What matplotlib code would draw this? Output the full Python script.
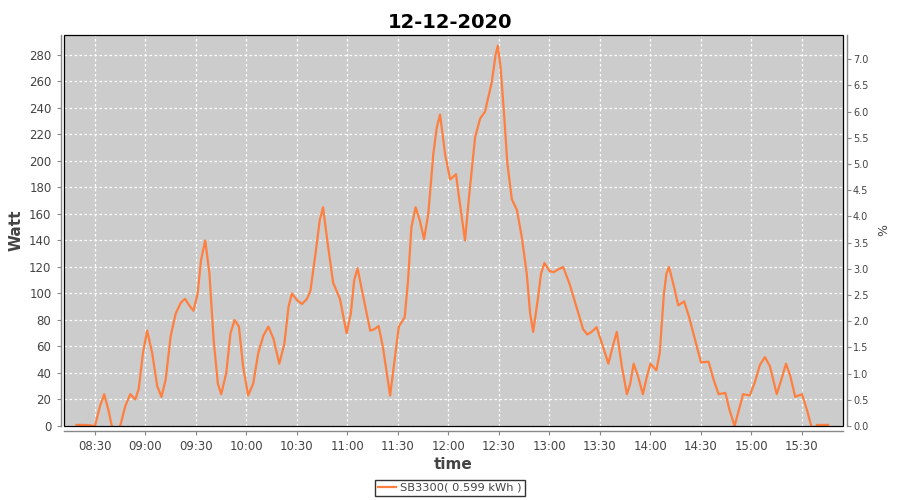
import matplotlib
matplotlib.use("Agg")
import matplotlib.pyplot as plt
import matplotlib.dates as mdates
import pandas as pd
from matplotlib.patches import Rectangle
from matplotlib.ticker import MultipleLocator, FormatStrFormatter

# power readings of SB3300 on 12-12-2020
times = [
    "08:19:00", "08:25:00", "08:30:00", "08:33:00", "08:35:30", "08:38:00", "08:40:00", "08:42:30",
    "08:45:00", "08:48:00", "08:51:00", "08:54:00", "08:56:00", "08:58:30", "09:01:00", "09:04:00",
    "09:07:00", "09:09:30", "09:12:00", "09:15:00", "09:18:00", "09:21:00", "09:23:30", "09:26:00",
    "09:28:30", "09:31:00", "09:33:00", "09:35:30", "09:38:00", "09:40:30", "09:43:00", "09:45:00",
    "09:48:00", "09:50:30", "09:53:00", "09:55:30", "09:58:00", "10:01:00", "10:04:00", "10:07:00",
    "10:10:00", "10:13:00", "10:16:00", "10:19:30", "10:22:30", "10:25:00", "10:27:00", "10:30:00",
    "10:33:00", "10:36:00", "10:38:00", "10:41:00", "10:43:30", "10:45:30", "10:48:00", "10:51:30",
    "10:55:30", "10:58:00", "10:59:30", "11:02:00", "11:04:00", "11:06:00", "11:09:00", "11:13:30",
    "11:16:00", "11:18:30", "11:21:00", "11:25:20", "11:28:00", "11:30:30", "11:34:00", "11:36:00",
    "11:38:00", "11:40:30", "11:43:00", "11:45:30", "11:48:00", "11:51:00", "11:53:00", "11:55:00",
    "11:58:00", "12:01:00", "12:04:30", "12:06:00", "12:09:50", "12:12:00", "12:15:50", "12:18:50",
    "12:21:40", "12:25:40", "12:28:00", "12:29:20", "12:31:00", "12:33:00", "12:35:00", "12:37:40",
    "12:40:40", "12:43:30", "12:46:30", "12:48:30", "12:50:20", "12:53:00", "12:55:00", "12:57:00",
    "13:00:00", "13:02:20", "13:05:00", "13:08:10", "13:12:00", "13:16:00", "13:20:00", "13:22:30",
    "13:25:00", "13:28:00", "13:31:00", "13:35:00", "13:38:00", "13:40:00", "13:43:00", "13:46:00",
    "13:48:00", "13:50:00", "13:52:30", "13:55:30", "13:58:00", "14:00:00", "14:03:30", "14:05:30",
    "14:08:00", "14:09:30", "14:11:00", "14:14:00", "14:16:30", "14:20:00", "14:23:00", "14:26:30",
    "14:30:00", "14:34:30", "14:37:30", "14:40:30", "14:44:30", "14:47:00", "14:50:00", "14:52:30",
    "14:55:00", "14:59:00", "15:02:00", "15:05:00", "15:08:00", "15:11:00", "15:15:00", "15:18:00",
    "15:20:30", "15:23:00", "15:26:00", "15:30:00", "15:33:00", "15:35:30", "15:37:30", "15:39:00",
    "15:45:30",
]
watts = [
    0.8, 0.8, 0, 15, 24, 12, 0, -3,
    0, 15, 24, 20, 28, 55, 72, 55,
    30, 22, 35, 68, 85, 93, 96, 91,
    87, 100, 125, 140, 115, 65, 32, 24,
    40, 70, 80, 75, 45, 23, 32, 55,
    68, 75, 66, 47, 62, 90, 100, 95,
    92, 96, 102, 130, 155, 165, 140, 108,
    96, 80, 70, 85, 110, 119, 100, 72,
    73, 75.5, 60, 23, 50, 75, 82, 110,
    150, 165, 155, 141, 160, 205, 225, 235,
    205, 186, 190, 175, 140, 170, 218, 232,
    237, 259, 280, 287, 270, 236, 198, 171,
    163, 143, 115, 85, 71, 95, 115, 123,
    117, 116, 118, 120, 107, 90, 73, 69,
    71, 74.5, 63, 47, 62, 71, 45, 24,
    32, 47, 38, 24, 38, 47, 42, 55,
    100, 115, 120, 105, 91, 94, 82, 65,
    48, 48.5, 35, 24, 25, 12, 0, 12,
    24, 23, 33, 46, 52, 45, 24, 36,
    47, 38, 22, 24, 12, 0, -2, 0.8,
    0.8,
]
series_label = "SB3300( 0.599 kWh )"
day = "2020-12-12"

df = pd.DataFrame({"time": pd.to_datetime(day + " " + pd.Series(times)), "watt": watts})

plt.rcParams["font.family"] = ["DejaVu Sans"]
text_col = "#444444"
axis_col = "#888888"

fig = plt.figure(figsize=(9, 5), dpi=100)
ax = fig.add_axes([0.0711, 0.148, 0.8656, 0.782])
ax.set_facecolor("#cccccc")

line, = ax.plot(df["time"], df["watt"], color="#ff7f3f", lw=1.6, label=series_label)

ax.set_xlim(pd.Timestamp(day + " 08:11:36"), pd.Timestamp(day + " 15:54:24"))
ax.set_ylim(0, 295)
ax.yaxis.set_major_locator(MultipleLocator(20))
ax.xaxis.set_major_locator(mdates.MinuteLocator(byminute=[0, 30]))
ax.xaxis.set_major_formatter(mdates.DateFormatter("%H:%M"))
ax.grid(True, color="white", linestyle=(0, (2, 2)), lw=0.9)
ax.set_axisbelow(True)

ax2 = ax.twinx()
ax2.set_ylim(0, 7.46)
ax2.yaxis.set_major_locator(MultipleLocator(0.5))
ax2.yaxis.set_major_formatter(FormatStrFormatter("%.1f"))

for a in (ax, ax2):
    for s in a.spines.values():
        s.set_visible(False)
ax.spines["left"].set_visible(True)
ax.spines["bottom"].set_visible(True)
ax2.spines["right"].set_visible(True)
ax.spines["left"].set_position(("outward", 2.5))
ax.spines["bottom"].set_position(("outward", 3.4))
ax2.spines["right"].set_position(("outward", 2.7))
for s in (ax.spines["left"], ax.spines["bottom"], ax2.spines["right"]):
    s.set_color(axis_col)
    s.set_linewidth(1.0)

ax.tick_params(axis="both", colors=axis_col, labelcolor=text_col, labelsize=8.5, length=3, width=0.8)
ax2.tick_params(axis="y", colors=axis_col, labelcolor=text_col, labelsize=7, length=3, width=0.8, pad=1.5)

# black plot outline
ax.add_patch(Rectangle((0, 0), 1, 1, transform=ax.transAxes, fill=False,
                       edgecolor="black", lw=0.9, zorder=5, clip_on=False))

ax.set_ylabel("Watt", fontsize=11, fontweight="bold", color=text_col, labelpad=4)
ax.set_xlabel("time", fontsize=11, fontweight="bold", color=text_col, labelpad=3)
ax2.set_ylabel("%", fontsize=9, color=text_col, labelpad=6)
fig.suptitle("12-12-2020", x=0.5, y=0.975, fontsize=14, fontweight="bold", color="black")

leg = fig.legend(handles=[line], loc="center", bbox_to_anchor=(0.5, 0.024), fontsize=8.2,
                 frameon=True, fancybox=False, handlelength=1.5, borderpad=0.3,
                 handletextpad=0.4, labelcolor=text_col)
leg.get_frame().set_edgecolor("black")
leg.get_frame().set_linewidth(1.0)

fig.savefig("out.png", dpi=100)
